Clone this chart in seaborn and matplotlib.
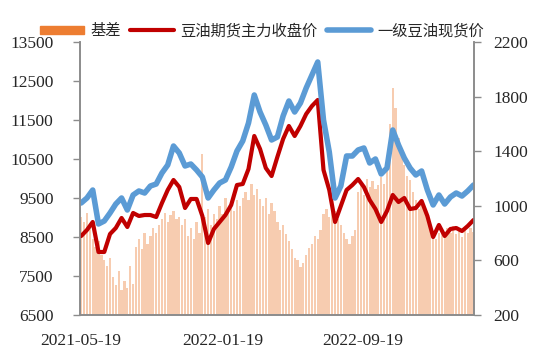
import numpy as np
import pandas as pd
import matplotlib
matplotlib.use('Agg')
import matplotlib.pyplot as plt
import matplotlib.dates as mdates
from matplotlib.patches import Patch
from matplotlib.lines import Line2D
import seaborn as sns

sns.set_theme(style='white')
plt.rcParams['font.family'] = ['Liberation Serif', 'Noto Sans CJK SC']

# 豆油期货主力收盘价 / 一级豆油现货价 (左轴), sampled every 10 days
line_dates = pd.date_range('2021-05-19', periods=69, freq='10D')
futures_close = [8526, 8680, 8885, 8116, 8116, 8577, 8731, 8987, 8757, 9116,
                 9039, 9064, 9064, 9013, 9372, 9705, 9962, 9782, 9244, 9475,
                 9475, 9039, 8346, 8705, 8885, 9064, 9321, 9833, 9859, 10244,
                 11090, 10757, 10269, 10064, 10551, 11013, 11346, 11090, 11346, 11654,
                 11859, 12013, 10218, 9705, 8885, 9295, 9705, 9833, 9987, 9782,
                 9449, 9218, 8885, 9167, 9577, 9398, 9500, 9218, 9244, 9423,
                 9039, 8500, 8808, 8526, 8705, 8731, 8654, 8782, 8936]
spot_price = [9372, 9500, 9705, 8834, 8910, 9116, 9346, 9500, 9192, 9577,
              9680, 9628, 9808, 9859, 10141, 10346, 10833, 10654, 10321, 10372,
              10218, 10039, 9500, 9705, 9885, 9962, 10295, 10705, 10962, 11423,
              12141, 11705, 11372, 10987, 11064, 11603, 11987, 11705, 11936, 12321,
              12654, 12987, 11500, 10680, 9500, 9808, 10577, 10577, 10731, 10782,
              10398, 10500, 10116, 10269, 11244, 10859, 10526, 10269, 10090, 10192,
              9705, 9321, 9577, 9346, 9526, 9628, 9551, 9680, 9833]

# 基差 (右轴), sampled every 5 days
basis_dates = pd.date_range('2021-05-19', periods=137, freq='5D')
basis = [920, 880, 950, 860,
         760, 700, 740,
         640, 600, 560, 620,
         480, 420, 520, 380, 450, 400, 560, 430,
         700, 760, 680, 800, 720, 780,
         840, 800, 860,
         900, 950, 880, 930, 960, 900, 920,
         860, 900, 780, 840, 760, 880, 800, 1380,
         920, 980, 860, 940, 900,
         1000, 940, 1060, 980, 1020, 960, 1040, 1000, 1060,
         1100, 1040, 1160, 1080, 1120, 1050,
         1000, 1060, 940, 1020, 960,
         880, 820, 860, 790,
         740, 680, 620, 600, 550, 580, 640, 690,
         720, 780, 760, 820,
         940, 980, 920, 1000, 960, 900,
         860, 800, 760, 720, 780, 820,
         1100, 1160, 1080, 1200, 1140, 1180, 1120,
         1150, 1210, 1160, 1300,
         1600, 1860, 1720, 1500,
         1380, 1300, 1220, 1190, 1100,
         1040, 980, 1000, 960,
         900, 820, 780, 760, 800,
         820, 780, 840, 800, 850, 790, 830, 770, 820, 800, 840, 810]

date_ticks = ['2021-05-19', '2022-01-19', '2022-09-19']
labels = ['基差', '豆油期货主力收盘价', '一级豆油现货价']
colors = ['#ED7D31', '#C00000', '#5B9BD5']

fig, ax_bar = plt.subplots(figsize=(5.5, 3.57), dpi=100)
fig.subplots_adjust(left=0.1455, right=0.862, top=0.8824, bottom=0.1176)

ax_bar.bar(basis_dates, basis, width=4.0, color='#F6C4A2', alpha=0.85, linewidth=0)
ax_bar.set_ylim(200, 2200)
ax_bar.set_yticks(np.arange(200, 2201, 400))

ax_line = ax_bar.twinx()
sns.lineplot(x=line_dates, y=futures_close, ax=ax_line, color=colors[1], lw=3.0)
sns.lineplot(x=line_dates, y=spot_price, ax=ax_line, color=colors[2], lw=4.0)
ax_line.set_ylim(6500, 13500)
ax_line.set_yticks(np.arange(6500, 13501, 1000))
ax_line.set_ylabel('')
# twinx puts the original axis on the left, so swap sides afterwards
ax_line.yaxis.tick_left()
ax_bar.yaxis.tick_right()

ax_bar.set_xlim(pd.Timestamp('2021-05-17'), pd.Timestamp('2023-03-31'))
ax_bar.set_xticks(pd.to_datetime(date_ticks))
ax_bar.xaxis.set_major_formatter(mdates.DateFormatter('%Y-%m-%d'))

for a in (ax_bar, ax_line):
    a.spines['top'].set_visible(False)
    for s in ('left', 'right', 'bottom'):
        a.spines[s].set_color('#8c8c8c')
        a.spines[s].set_linewidth(1.2)
    a.grid(False)

ax_line.tick_params(axis='y', length=5, width=1, color='#8c8c8c', pad=14, labelsize=12.5)
ax_bar.tick_params(axis='y', length=5, width=1, color='#8c8c8c', pad=9, labelsize=12.5)
ax_bar.tick_params(axis='x', length=0, pad=13, labelsize=12.5)

handles = [Patch(color=colors[0]),
           Line2D([], [], color=colors[1], lw=3),
           Line2D([], [], color=colors[2], lw=4)]
fig.legend(handles, labels, loc='center', bbox_to_anchor=(0.476, 0.914), ncol=3,
           frameon=False, prop={'family': ['Noto Sans CJK SC'], 'size': 11},
           handlelength=2.9, handleheight=0.45, handletextpad=0.4, columnspacing=0.6)

fig.savefig('out.png', dpi=100, facecolor='white')
